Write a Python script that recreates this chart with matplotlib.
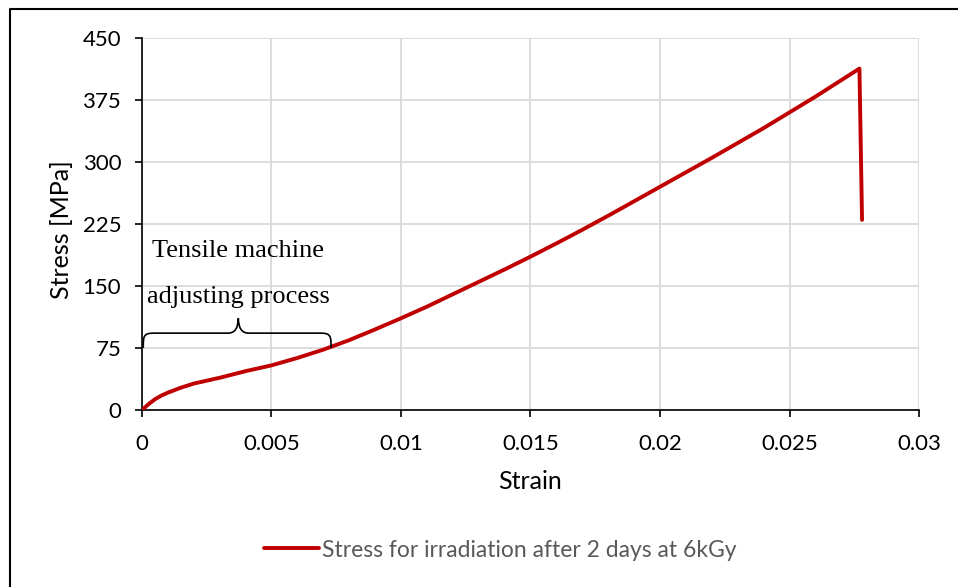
import matplotlib.pyplot as plt
from matplotlib.path import Path
from matplotlib.patches import PathPatch
from matplotlib.lines import Line2D

# strain / stress
strain = [0, 0.00025, 0.0005, 0.00075, 0.001, 0.0015, 0.002, 0.0025, 0.003, 0.0035,
          0.004, 0.005, 0.006, 0.007, 0.008, 0.009, 0.01, 0.011, 0.012, 0.013,
          0.014, 0.015, 0.016, 0.017, 0.018, 0.019, 0.02, 0.021, 0.022, 0.023,
          0.024, 0.025, 0.026, 0.027, 0.0277, 0.0278]
stress = [0, 7, 13, 17.5, 21, 27, 32, 35.5, 39, 43,
          47, 54, 63, 73, 84.5, 97.5, 111, 125, 140, 155,
          170, 185.5, 201.5, 218, 235, 252.5, 270, 287.5, 305, 323,
          341, 360, 379, 399, 413, 230]

x_ticks = [0, 0.005, 0.01, 0.015, 0.02, 0.025, 0.03]
x_labels = ['0', '0.005', '0.01', '0.015', '0.02', '0.025', '0.03']
y_ticks = [0, 75, 150, 225, 300, 375, 450]

series_label = 'Stress for irradiation after 2 days at 6kGy'
note_lines = ['Tensile machine', 'adjusting process']

plt.rcParams['font.family'] = ['Lato', 'DejaVu Sans']

fig = plt.figure(figsize=(9.58, 5.87), dpi=100)
ax = fig.add_axes([0.1482, 0.3015, 0.8111, 0.6338])

ax.plot(strain, stress, color='#c00000', lw=2.8, label=series_label,
        solid_capstyle='round', solid_joinstyle='round', zorder=3)

ax.set_xlim(0, 0.03)
ax.set_ylim(0, 450)
ax.set_xticks(x_ticks)
ax.set_xticklabels(x_labels)
ax.set_yticks(y_ticks)
ax.grid(True, color='#d9d9d9', lw=1.3)
ax.set_axisbelow(True)
for s in ['top', 'right']:
    ax.spines[s].set_visible(False)
for s in ['left', 'bottom']:
    ax.spines[s].set_color('black')
    ax.spines[s].set_linewidth(1.2)
ax.tick_params(direction='out', length=5, width=1.2, labelsize=16)
ax.tick_params(axis='x', pad=12)
ax.tick_params(axis='y', pad=10)
ax.set_xlabel('Strain', fontsize=18, va='center')
ax.set_ylabel('Stress [MPa]', fontsize=18, va='center')
ax.xaxis.set_label_coords(0.5, -0.191)
ax.yaxis.set_label_coords(-0.103, 0.485)

# brace over the adjusting region
x0, x1, xm = 0.00005, 0.0073, 0.00372
yb, yl, yt = 75, 93, 111
dx = 0.0004
verts = [(x0, yb), (x0, yl - 4), (x0, yl), (x0 + dx, yl),
         (xm - dx, yl), (xm, yl), (xm, yt),
         (xm, yl), (xm + dx, yl),
         (x1 - dx, yl), (x1, yl), (x1, yl - 4), (x1, yb)]
codes = [Path.MOVETO, Path.CURVE4, Path.CURVE4, Path.CURVE4,
         Path.LINETO, Path.CURVE3, Path.CURVE3,
         Path.CURVE3, Path.CURVE3,
         Path.LINETO, Path.CURVE4, Path.CURVE4, Path.CURVE4]
ax.add_patch(PathPatch(Path(verts, codes), fill=False, color='black', lw=1.2, zorder=4))

ax.text(xm, 192, note_lines[0], ha='center', va='center', fontsize=19,
        family='Liberation Serif')
ax.text(xm, 137, note_lines[1], ha='center', va='center', fontsize=19,
        family='Liberation Serif')

fig.legend(loc='center', bbox_to_anchor=(0.522, 0.063), frameon=False,
           fontsize=16.5, handlelength=2.4, handletextpad=0.13, labelcolor='#595959')

# outer chart border (left and top edges visible)
fig.add_artist(Line2D([9.5 / 958, 9.5 / 958, 1.0], [0, 1 - 8.5 / 587, 1 - 8.5 / 587],
                      transform=fig.transFigure, color='black', lw=1.5))

fig.savefig('out.png', dpi=100)
